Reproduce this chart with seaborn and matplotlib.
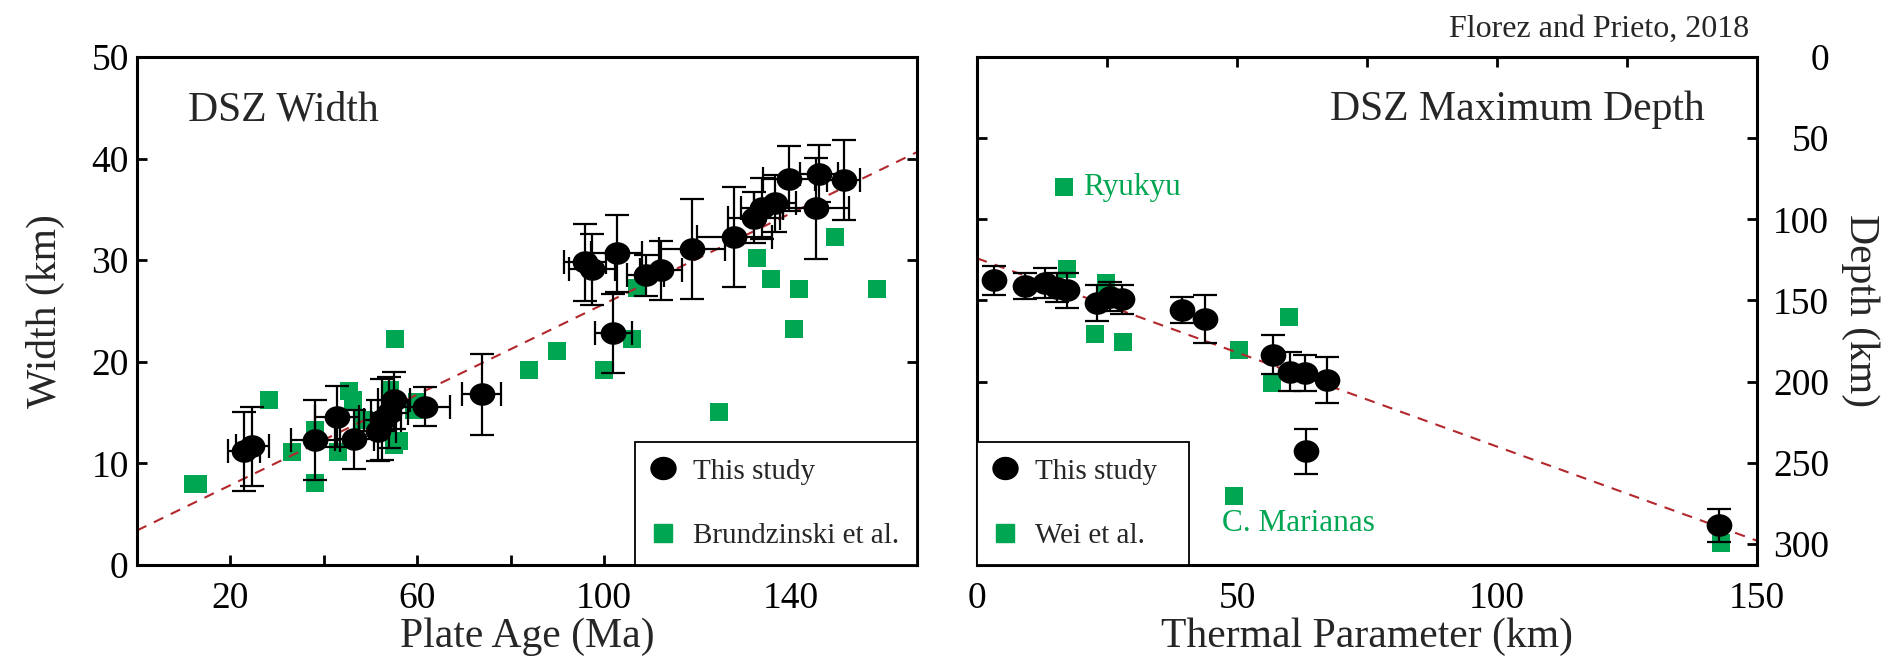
import numpy as np
import matplotlib
matplotlib.use("Agg")
import matplotlib.pyplot as plt
from matplotlib.path import Path
from matplotlib.markers import MarkerStyle
from matplotlib.lines import Line2D
import seaborn as sns

# ---------------- data ----------------
# Left panel: DSZ width vs plate age (this study)
age_this = [22.9, 24.7, 38.2, 42.8, 46.5, 51.5, 52.5, 54.0, 55.0, 61.6, 73.8,
            96.0, 97.4, 102.7, 102.0, 108.9, 112.3, 118.8, 127.9, 132.1, 133.9,
            136.7, 139.6, 146.0, 151.3, 145.4]
width_this = [11.2, 11.7, 12.3, 14.6, 12.4, 13.2, 14.3, 15.0, 16.2, 15.6, 16.8,
              29.8, 29.1, 30.7, 22.8, 28.5, 29.0, 31.1, 32.3, 34.2, 35.1,
              35.6, 38.0, 38.5, 37.9, 35.1]
age_err = [3.5, 3.5, 5.2, 4.7, 4.2, 4.0, 4.0, 4.0, 3.5, 5.5, 4.2,
           4.5, 5.0, 5.5, 4.0, 4.0, 4.5, 7.0, 8.0, 5.5, 4.5,
           4.5, 5.5, 4.0, 3.5, 7.0]
width_err = [3.9, 3.9, 3.9, 3.0, 2.9, 3.0, 4.0, 3.5, 2.8, 1.9, 4.0,
             3.8, 3.5, 3.8, 3.9, 2.0, 2.9, 4.9, 4.9, 2.5, 3.0,
             2.8, 3.2, 2.8, 3.9, 5.0]
# Brudzinski et al.
age_brud = [12.0, 13.0, 28.2, 33.2, 38.2, 38.2, 43.1, 45.3, 46.3, 48.6, 54.1,
            55.2, 55.0, 56.2, 59.4, 60.0, 83.9, 89.9, 99.9, 105.9, 107.0,
            124.7, 132.8, 135.7, 140.6, 141.7, 149.5, 158.5]
width_brud = [8.0, 8.0, 16.2, 11.1, 13.3, 8.1, 11.1, 17.1, 16.2, 14.3, 17.2,
              22.2, 11.8, 12.2, 15.3, 16.0, 19.2, 21.1, 19.2, 22.2, 27.3,
              15.1, 30.2, 28.2, 23.2, 27.2, 32.3, 27.2]
width_fit = (3.4, 0.223)   # intercept, slope

# Right panel: DSZ maximum depth vs thermal parameter
tp_this = [3.3, 9.2, 13.1, 15.3, 17.3, 23.0, 25.6, 27.9, 39.4, 43.8,
           56.9, 60.2, 63.1, 67.4, 63.2, 142.8]
depth_this = [137.5, 141.0, 139.2, 142.2, 143.8, 151.7, 147.6, 149.2, 155.8, 161.5,
              183.5, 193.8, 194.8, 198.9, 243.0, 288.6]
depth_err = [9.0, 8.0, 9.0, 9.0, 11.0, 11.0, 9.0, 9.0, 8.0, 15.0,
             12.0, 12.0, 11.0, 14.0, 14.0, 10.0]
tp_wei = [16.7, 17.4, 24.9, 22.7, 28.0, 50.3, 60.1, 56.8, 49.4, 143.0]
depth_wei = [80.2, 130.7, 139.4, 170.8, 175.7, 180.4, 159.9, 200.9, 270.7, 299.5]
depth_fit = (124.0, 1.16)

x_ticks_age = [20, 60, 100, 140]
x_minor_age = [40, 80, 120, 160]
y_ticks_width = [0, 10, 20, 30, 40, 50]
x_ticks_tp = [0, 50, 100, 150]
x_minor_tp = [25, 75, 125]
y_ticks_depth = [0, 50, 100, 150, 200, 250, 300]

# ---------------- style ----------------
sns.set_style("ticks")
plt.rcParams["font.family"] = ["Liberation Serif", "DejaVu Serif"]

GREEN = "#00a651"
FIT = "#b3282d"
ELW = 1.6

circ = Path.unit_circle()
ell = MarkerStyle(Path(circ.vertices * np.array([1.0, 0.88]), circ.codes))

fig = plt.figure(figsize=(19, 6.6), dpi=100)
ax1 = fig.add_axes([0.0721, 0.1439, 0.4105, 0.7697])
ax2 = fig.add_axes([0.5142, 0.1439, 0.4105, 0.7697])

for ax in (ax1, ax2):
    for sp in ax.spines.values():
        sp.set_visible(True)
        sp.set_linewidth(2.2)
        sp.set_color("black")

# ---------- left panel ----------
ax1.set_xlim(0, 167)
ax1.set_ylim(0, 50)
xl = np.array(ax1.get_xlim())
ax1.plot(xl, width_fit[0] + width_fit[1] * xl, color=FIT, lw=1.5,
         dashes=(5, 4), zorder=2)
sns.scatterplot(x=age_brud, y=width_brud, ax=ax1, marker="s", s=12.5 ** 2,
                color=GREEN, linewidth=0, zorder=1, legend=False)
ax1.errorbar(age_this, width_this, xerr=age_err, yerr=width_err, fmt="none",
             ecolor="black", elinewidth=ELW, capsize=8.5, capthick=ELW, zorder=3)
sns.scatterplot(x=age_this, y=width_this, ax=ax1, marker=ell, s=18.5 ** 2,
                color="black", linewidth=0, zorder=4, legend=False)

ax1.set_xticks(x_ticks_age)
ax1.set_xticks(x_minor_age, minor=True)
ax1.set_yticks(y_ticks_width)
ax1.tick_params(which="both", direction="in", length=7, width=2,
                top=False, right=True, bottom=True, left=True, labelsize=27,
                colors="black")
ax1.tick_params(axis="x", which="both", pad=12)
ax1.tick_params(axis="y", which="both", pad=6)
ax1.set_xlabel("Plate Age (Ma)", fontsize=30, labelpad=1)
ax1.set_ylabel("Width (km)", fontsize=30, labelpad=19)
ax1.text(0.065, 0.876, "DSZ Width", transform=ax1.transAxes, fontsize=30,
         ha="left", va="baseline")

h_this = Line2D([], [], marker=ell, ls="none", color="black", markersize=18)
h_sq = Line2D([], [], marker="s", ls="none", color=GREEN, markersize=12.5)
leg1 = ax1.legend([h_this, h_sq], ["This study", "Brundzinski et al."],
                  loc="lower left", bbox_to_anchor=(0.6385, 0.0, 0.3615, 0.252),
                  mode="expand", borderaxespad=0, fancybox=False,
                  edgecolor="black", framealpha=1, fontsize=21,
                  labelspacing=1.3, borderpad=0.55, handlelength=0.8,
                  handletextpad=0.65)
leg1.get_frame().set_linewidth(1.3)

# ---------- right panel ----------
ax2.set_xlim(0, 150)
ax2.set_ylim(313, 0)
xr = np.array(ax2.get_xlim())
ax2.plot(xr, depth_fit[0] + depth_fit[1] * xr, color=FIT, lw=1.5,
         dashes=(5, 4), zorder=2)
sns.scatterplot(x=tp_wei, y=depth_wei, ax=ax2, marker="s", s=12.5 ** 2,
                color=GREEN, linewidth=0, zorder=1, legend=False)
ax2.errorbar(tp_this, depth_this, yerr=depth_err, fmt="none",
             ecolor="black", elinewidth=ELW, capsize=8.5, capthick=ELW, zorder=3)
sns.scatterplot(x=tp_this, y=depth_this, ax=ax2, marker=ell, s=18.5 ** 2,
                color="black", linewidth=0, zorder=4, legend=False)

ax2.set_xticks(x_ticks_tp)
ax2.set_xticks(x_minor_tp, minor=True)
ax2.set_yticks(y_ticks_depth)
ax2.tick_params(which="both", direction="in", length=7, width=2,
                top=True, bottom=False, left=True, right=True,
                labelleft=False, labelright=True, labelsize=27, colors="black")
ax2.tick_params(axis="x", which="both", pad=12)
ax2.tick_params(axis="y", which="both", pad=52)
for t in ax2.get_yticklabels():
    t.set_horizontalalignment("right")
ax2.yaxis.set_label_position("right")
ax2.set_xlabel("Thermal Parameter (km)", fontsize=30, labelpad=1)
ax2.set_ylabel("Depth (km)", fontsize=30, rotation=270, labelpad=36)
ax2.text(0.933, 0.876, "DSZ Maximum Depth", transform=ax2.transAxes,
         fontsize=30, ha="right", va="baseline")
ax2.text(20.4, 85, "Ryukyu", color=GREEN, fontsize=22.5, ha="left", va="baseline")
ax2.text(47.1, 292.3, "C. Marianas", color=GREEN, fontsize=22.5, ha="left",
         va="baseline")

leg2 = ax2.legend([h_this, h_sq], ["This study", "Wei et al."],
                  loc="lower left", bbox_to_anchor=(0.0, 0.0, 0.272, 0.252),
                  mode="expand", borderaxespad=0, fancybox=False,
                  edgecolor="black", framealpha=1, fontsize=21,
                  labelspacing=1.3, borderpad=0.55, handlelength=0.8,
                  handletextpad=0.65)
leg2.get_frame().set_linewidth(1.3)

fig.text(0.9205, 0.944, "Florez and Prieto, 2018", fontsize=23,
         ha="right", va="baseline")

fig.savefig("out.png", dpi=100)
